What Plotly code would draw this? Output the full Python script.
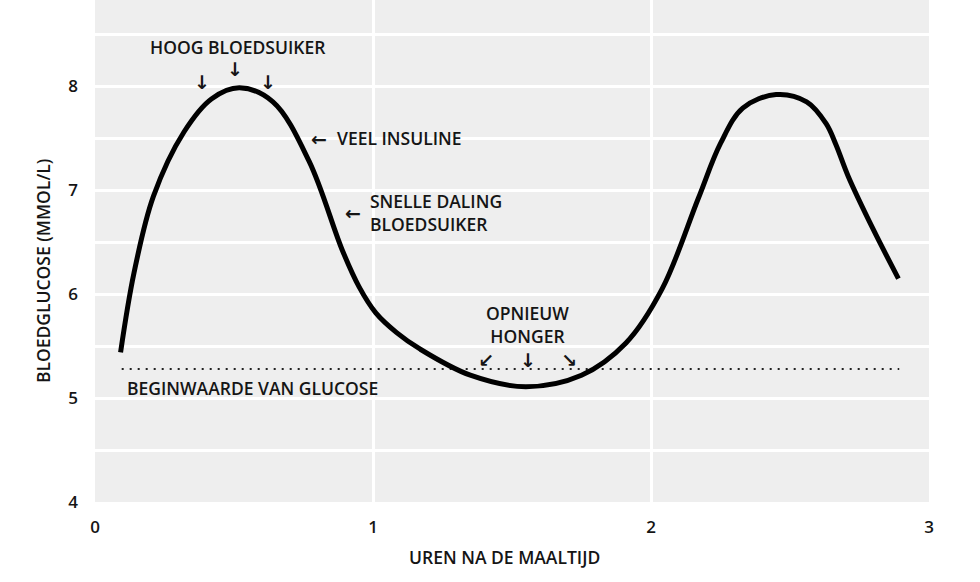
import plotly.graph_objects as go

# ---- data ----
hours = [0.092, 0.140, 0.210, 0.320, 0.420, 0.520, 0.640, 0.770, 0.890, 0.950,
         1.010, 1.085, 1.170, 1.350, 1.550, 1.750, 1.910, 2.040, 2.170, 2.250,
         2.330, 2.450, 2.560, 2.630, 2.665, 2.710, 2.800, 2.890]
glucose = [5.44, 6.20, 6.94, 7.56, 7.88, 7.985, 7.85, 7.28, 6.42, 6.07,
           5.82, 5.63, 5.47, 5.22, 5.11, 5.22, 5.53, 6.05, 6.92, 7.45,
           7.79, 7.92, 7.85, 7.64, 7.44, 7.13, 6.62, 6.15]
baseline_x = [0.096, 2.893]
baseline_value = 5.28

x_ticks = [0, 1, 2, 3]
y_ticks = [4, 5, 6, 7, 8]

x_title = "UREN NA DE MAALTIJD"
y_title = "BLOEDGLUCOSE (MMOL/L)"

# label texts and anchor positions (data coordinates)
labels = [
    ("HOOG BLOEDSUIKER", 0.516, 8.38, "center"),
    ("VEEL INSULINE", 0.863, 7.50, "left"),
    ("SNELLE DALING<br>BLOEDSUIKER", 0.982, 6.79, "left"),
    ("OPNIEUW<br>HONGER", 1.554, 5.71, "center"),
    ("BEGINWAARDE VAN GLUCOSE", 0.108, 5.10, "left"),
]
arrows = [
    ("↓", 0.384, 8.04), ("↓", 0.504, 8.17), ("↓", 0.624, 8.04),
    ("←", 0.806, 7.49), ("←", 0.929, 6.78),
    ("↙", 1.406, 5.37), ("↓", 1.558, 5.37), ("↘", 1.705, 5.37),
]

FONT = "Open Sans"
TXT = "#151515"
FS = 17.5

fig = go.Figure()
fig.add_trace(go.Scatter(
    x=baseline_x, y=[baseline_value] * len(baseline_x), mode="lines",
    line=dict(color="#222222", width=2, dash="2px,6px"),
    hoverinfo="skip", showlegend=False))
fig.add_trace(go.Scatter(
    x=hours, y=glucose, mode="lines",
    line=dict(color="black", width=5, shape="spline", smoothing=1.0),
    showlegend=False))

for text, x, y, align in labels:
    fig.add_annotation(x=x, y=y, xref="x", yref="y", text=text, showarrow=False,
                       xanchor=align, yanchor="middle", align=align,
                       font=dict(family=FONT, size=FS, color=TXT, weight=600))
for text, x, y in arrows:
    fig.add_annotation(x=x, y=y, xref="x", yref="y", text=text, showarrow=False,
                       xanchor="center", yanchor="middle",
                       font=dict(family="DejaVu Sans", size=19, color=TXT, weight="bold"))

fig.add_annotation(x=0.4916, y=-0.1096, xref="paper", yref="paper", text=x_title,
                   showarrow=False, xanchor="center", yanchor="middle",
                   font=dict(family=FONT, size=FS, color=TXT, weight=600))
fig.add_annotation(x=-0.0623, y=0.46, xref="paper", yref="paper", text=y_title,
                   showarrow=False, textangle=-90, xanchor="center", yanchor="middle",
                   font=dict(family=FONT, size=FS, color=TXT, weight=600))

fig.update_layout(
    width=980, height=582,
    margin=dict(l=95, r=51, t=0, b=80),
    paper_bgcolor="white", plot_bgcolor="#eeeeee",
    xaxis=dict(range=[0, 3], tickvals=x_ticks, showgrid=True, gridcolor="white",
               gridwidth=3, zeroline=False, showline=False, ticks="",
               ticklabelstandoff=13,
               tickfont=dict(family=FONT, size=17, color=TXT, weight=600)),
    yaxis=dict(range=[4, 8.83], tickvals=y_ticks, showgrid=True, gridcolor="white",
               gridwidth=3, zeroline=False, showline=False, ticks="",
               ticklabelstandoff=16,
               minor=dict(dtick=0.5, showgrid=True, gridcolor="white", gridwidth=3),
               tickfont=dict(family=FONT, size=17, color=TXT, weight=600)),
)

fig.write_html("out.html")
